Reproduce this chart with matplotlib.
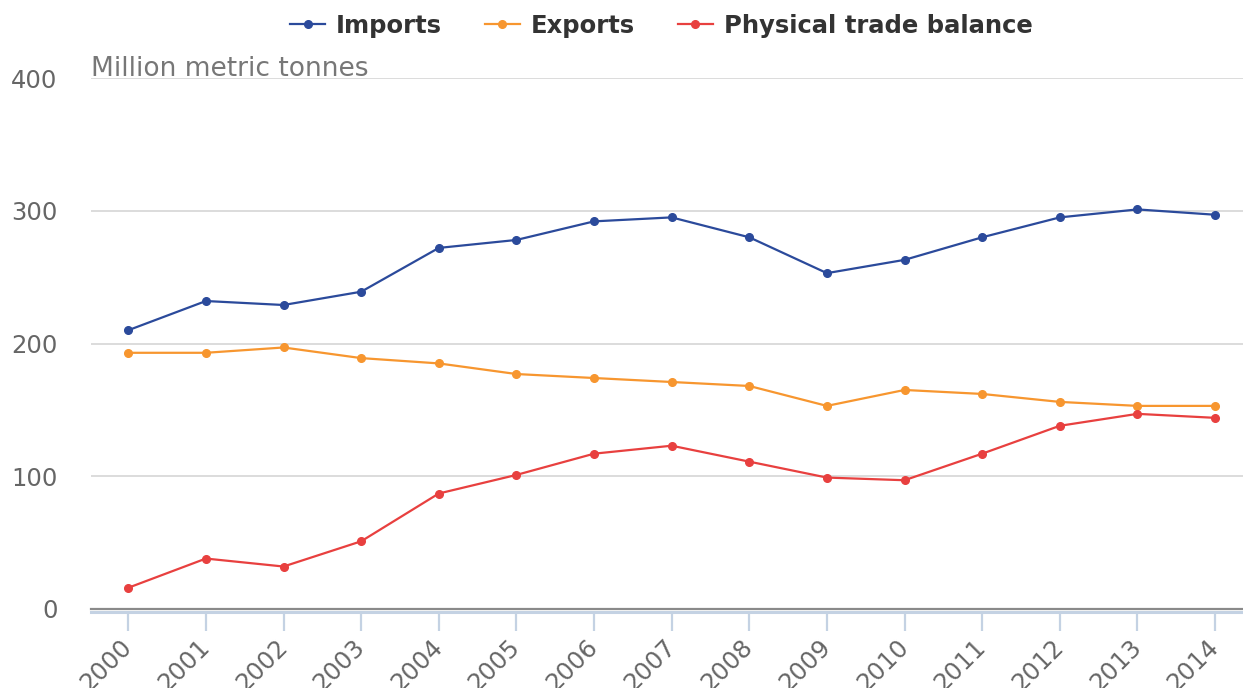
import matplotlib.pyplot as plt
import numpy as np

plt.rcParams["font.family"] = ["DejaVu Sans"]

years = list(range(2000, 2015))
imports = [210, 232, 229, 239, 272, 278, 292, 295, 280, 253, 263, 280, 295, 301, 297]
exports = [193, 193, 197, 189, 185, 177, 174, 171, 168, 153, 165, 162, 156, 153, 153]
balance = [16, 38, 32, 51, 87, 101, 117, 123, 111, 99, 97, 117, 138, 147, 144]

series = [
    ("Imports", imports, "#2b4a9b"),
    ("Exports", exports, "#f7962f"),
    ("Physical trade balance", balance, "#e8403f"),
]

fig = plt.figure(figsize=(12.43, 6.88), dpi=100)
ax = fig.add_axes([91 / 1243, 1 - 609 / 688, 1 - 91 / 1243, (609 - 78) / 688])

# light blue axis line sits just under the grey zero line
# (set_position resets the ticks, so do it before labelling)
ax.spines["bottom"].set_position(("outward", 2))
ax.spines["bottom"].set_color("#c4d2e3")
ax.spines["bottom"].set_linewidth(2.2)
for s in ["top", "right", "left"]:
    ax.spines[s].set_visible(False)

for name, vals, col in series:
    ax.plot(years, vals, color=col, lw=1.6, marker="o", ms=5.5, label=name, zorder=3)

ax.set_xlim(1999.52, 2014.36)
ax.set_ylim(0, 400)
ax.set_yticks([0, 100, 200, 300, 400])
ax.set_xticks(years)
ax.set_xticklabels([str(y) for y in years], rotation=45, ha="right",
                   va="center", rotation_mode="anchor")
ax.grid(axis="y", color="#d9d9d9", lw=1.3)
ax.set_axisbelow(True)
ax.axhline(0, color="#8a8a8a", lw=1.6, zorder=2, clip_on=False)
ax.tick_params(axis="x", colors="#c4d2e3", length=14, width=1.6, pad=9,
               labelcolor="#666666", labelsize=17.5)
ax.tick_params(axis="y", length=0, pad=24, labelcolor="#666666", labelsize=17.5)

ax.text(0, 1.003, "Million metric tonnes", transform=ax.transAxes,
        fontsize=19, color="#777777", va="baseline", ha="left")

leg = fig.legend(loc="upper center", bbox_to_anchor=(0.532, 1.012), ncol=3,
                 frameon=False, prop={"weight": "bold", "size": 17.5},
                 handlelength=1.45, columnspacing=1.75, handletextpad=0.45)
for t in leg.get_texts():
    t.set_color("#333333")

fig.savefig("out.png", dpi=100)
